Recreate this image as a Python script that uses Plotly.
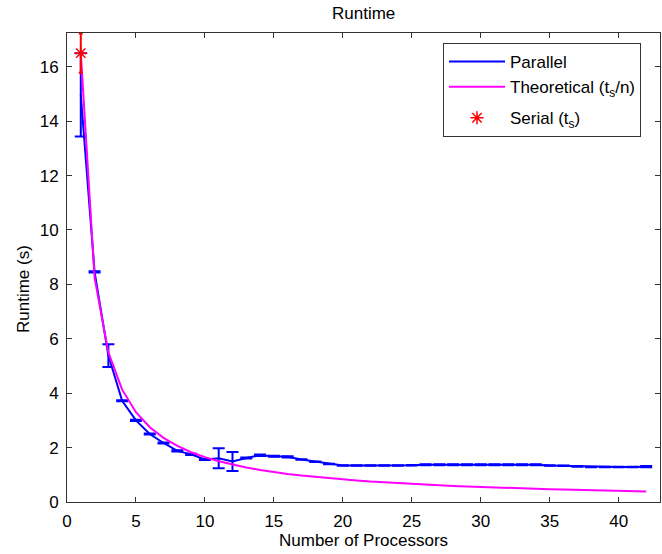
import plotly.graph_objects as go

# ---- data ----
processors = list(range(1, 43))
parallel_runtime = [14.97, 8.46, 5.38, 3.72, 3.00, 2.50, 2.17, 1.88, 1.75, 1.56,
                    1.61, 1.49, 1.62, 1.72, 1.68, 1.66, 1.56, 1.48, 1.40, 1.34,
                    1.34, 1.34, 1.34, 1.34, 1.35, 1.37, 1.37, 1.37, 1.37, 1.37,
                    1.37, 1.37, 1.37, 1.37, 1.34, 1.33, 1.31, 1.29, 1.29, 1.29,
                    1.29, 1.30]
parallel_err = [1.53, 0.02, 0.42, 0.02, 0.02, 0.02, 0.02, 0.02, 0.02, 0.02,
                0.37, 0.35, 0.02, 0.03, 0.02, 0.02, 0.01, 0.01, 0.01, 0.01,
                0.01, 0.01, 0.01, 0.01, 0.01, 0.02, 0.02, 0.02, 0.02, 0.02,
                0.02, 0.02, 0.02, 0.02, 0.01, 0.01, 0.01, 0.01, 0.01, 0.01,
                0.01, 0.02]
theoretical_runtime = [16.5, 8.25, 5.5, 4.13, 3.3, 2.75, 2.36, 2.06, 1.83, 1.65,
                       1.5, 1.38, 1.27, 1.18, 1.1, 1.03, 0.97, 0.92, 0.87, 0.83,
                       0.79, 0.75, 0.72, 0.69, 0.66, 0.63, 0.61, 0.59, 0.57, 0.55,
                       0.53, 0.52, 0.5, 0.49, 0.47, 0.46, 0.45, 0.43, 0.42, 0.41,
                       0.40, 0.39]
serial_n = [1]
serial_runtime = [16.5]
serial_err = [0.72]

x_ticks = [0, 5, 10, 15, 20, 25, 30, 35, 40]
y_ticks = [0, 2, 4, 6, 8, 10, 12, 14, 16]

FONT = "Liberation Sans, Arial, sans-serif"
FS = 17
W, H = 662, 554
ML, MR, MT, MB = 67, 2, 33, 52

fig = go.Figure()
fig.add_trace(go.Scatter(
    x=processors, y=parallel_runtime, mode="lines", name="Parallel",
    line=dict(color="#0000FF", width=2),
    error_y=dict(type="data", array=parallel_err, color="#0000FF", thickness=2, width=6),
    legendgroup="a",
))
fig.add_trace(go.Scatter(
    x=processors, y=theoretical_runtime, mode="lines",
    name="Theoretical (t<sub>s</sub>/n)",
    line=dict(color="#FF00FF", width=2),
    legendgroup="a",
))
fig.add_trace(go.Scatter(
    x=serial_n, y=serial_runtime, mode="markers", name="Serial (t<sub>s</sub>)",
    marker=dict(symbol="asterisk-open", size=11, color="#FF0000",
                line=dict(color="#FF0000", width=1.5)),
    error_y=dict(type="data", array=serial_err, color="#FF0000", thickness=2, width=2),
    legendgroup="b",
))

axis_common = dict(
    showline=True, linecolor="#333333", linewidth=1, mirror="ticks",
    ticks="inside", ticklen=5, tickcolor="#333333", tickwidth=1,
    showgrid=False, zeroline=False,
    tickfont=dict(family=FONT, size=FS, color="#000000"),
)

fig.update_xaxes(range=[0, 43], tickvals=x_ticks, ticklabelstandoff=4, **axis_common)
fig.update_yaxes(range=[0, 17.24], tickvals=y_ticks, ticklabelstandoff=4, **axis_common)

plot_w = W - ML - MR
plot_h = H - MT - MB

fig.update_layout(
    width=W, height=H,
    margin=dict(l=ML, r=MR, t=MT, b=MB, pad=0),
    paper_bgcolor="white", plot_bgcolor="white",
    font=dict(family=FONT, size=FS, color="#000000"),
    showlegend=True,
    legend=dict(
        x=(443 - ML) / plot_w, y=1 - (43 - MT) / plot_h,
        xanchor="left", yanchor="top",
        bgcolor="white", bordercolor="#333333", borderwidth=1,
        font=dict(family=FONT, size=FS, color="#000000"),
        traceorder="grouped", tracegroupgap=6, itemwidth=56,
    ),
    annotations=[
        dict(text="Runtime", xref="paper", yref="paper",
             x=0.5, y=1 + (MT - 14) / plot_h, xanchor="center", yanchor="middle",
             showarrow=False, font=dict(family=FONT, size=FS)),
        dict(text="Number of Processors", xref="paper", yref="paper",
             x=0.5, y=-(540 - (H - MB)) / plot_h, xanchor="center", yanchor="middle",
             showarrow=False, font=dict(family=FONT, size=FS)),
        dict(text="Runtime (s)", xref="paper", yref="paper", textangle=-90,
             x=(23 - ML) / plot_w, y=((H - MB) - 289) / plot_h,
             xanchor="center", yanchor="middle",
             showarrow=False, font=dict(family=FONT, size=FS)),
    ],
)

fig.write_html("out.html", config={"displayModeBar": False},
               post_script="document.body.style.margin='0';document.body.style.overflow='hidden';")
